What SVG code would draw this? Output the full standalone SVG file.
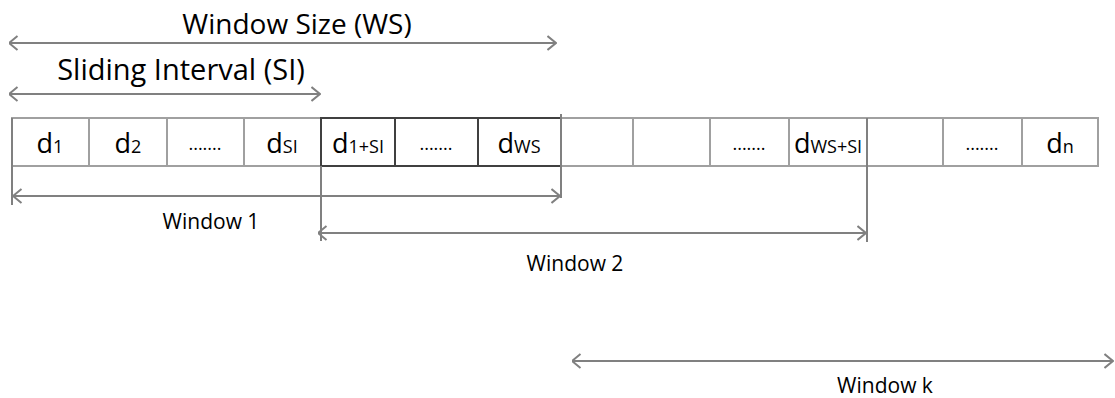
<svg xmlns="http://www.w3.org/2000/svg" width="1115" height="398" viewBox="0 0 1115 398">
<defs>
<marker id="ah" viewBox="0 0 10 16" refX="9.5" refY="8" markerWidth="10" markerHeight="16" markerUnits="userSpaceOnUse" orient="auto-start-reverse">
<path d="M1,1 L9.5,8 L1,15" fill="none" stroke="#808080" stroke-width="2"/>
</marker>
<style>
.t{font-family:"Open Sans","Noto Sans",sans-serif;fill:#000}
.big{font-size:28px}
.lbl{font-size:21px}
.c{fill:#fff;stroke:#a0a0a0;stroke-width:2}
.cd{fill:none;stroke:#404040;stroke-width:2}
.ar{fill:none;stroke:#808080;stroke-width:2;marker-start:url(#ah);marker-end:url(#ah)}
.v{stroke:#808080;stroke-width:2}
.d{font-size:27px}
.s{font-size:18px}
.dots{font-size:18px}
</style>
</defs>
<rect width="1115" height="398" fill="#fff"/>
<g id="cells">
<g id="c1"><rect class="c" x="12" y="118" width="77" height="48"/><text class="t" x="50" y="153" text-anchor="middle"><tspan class="d">d</tspan><tspan class="s">1</tspan></text></g>
<g id="c2"><rect class="c" x="89" y="118" width="78" height="48"/><text class="t" x="128" y="153" text-anchor="middle"><tspan class="d">d</tspan><tspan class="s">2</tspan></text></g>
<g id="c3"><rect class="c" x="167" y="118" width="77" height="48"/><text class="t dots" x="205" y="150" text-anchor="middle">.......</text></g>
<g id="c4"><rect class="c" x="244" y="118" width="77" height="48"/><text class="t" x="282" y="153" text-anchor="middle"><tspan class="d">d</tspan><tspan class="s">SI</tspan></text></g>
<g id="c5"><rect class="c" x="561" y="118" width="72" height="48"/></g>
<g id="c6"><rect class="c" x="633" y="118" width="77" height="48"/></g>
<g id="c7"><rect class="c" x="710" y="118" width="79" height="48"/><text class="t dots" x="749" y="150" text-anchor="middle">.......</text></g>
<g id="c8"><rect class="c" x="789" y="118" width="78" height="48"/><text class="t" x="828" y="153" text-anchor="middle"><tspan class="d">d</tspan><tspan class="s">WS+SI</tspan></text></g>
<g id="c9"><rect class="c" x="867" y="118" width="76" height="48"/></g>
<g id="c10"><rect class="c" x="943" y="118" width="79" height="48"/><text class="t dots" x="982" y="150" text-anchor="middle">.......</text></g>
<g id="c11"><rect class="c" x="1022" y="118" width="76" height="48"/><text class="t" x="1060" y="153" text-anchor="middle"><tspan class="d">d</tspan><tspan class="s">n</tspan></text></g>
<g id="c12"><rect class="cd" x="321" y="118" width="74" height="48"/><text class="t" x="358" y="153" text-anchor="middle"><tspan class="d">d</tspan><tspan class="s">1+SI</tspan></text></g>
<g id="c13"><rect class="cd" x="395" y="118" width="83" height="48"/><text class="t dots" x="436" y="150" text-anchor="middle">.......</text></g>
<g id="c14"><rect class="cd" x="478" y="118" width="83" height="48"/><text class="t" x="519" y="153" text-anchor="middle"><tspan class="d">d</tspan><tspan class="s">WS</tspan></text></g>
</g>
<g id="connectors">
<line class="v" x1="12" y1="118" x2="12" y2="205"/>
<line class="v" x1="321" y1="166" x2="321" y2="241"/>
<line class="v" x1="561" y1="114" x2="561" y2="198"/>
<line class="v" x1="867" y1="118" x2="867" y2="242"/>
<line class="ar" x1="9" y1="43" x2="556" y2="43"/>
<line class="ar" x1="9" y1="94" x2="320" y2="94"/>
<line class="ar" x1="13" y1="196" x2="560" y2="196"/>
<line class="ar" x1="318" y1="233" x2="866" y2="233"/>
<line class="ar" x1="572" y1="361" x2="1113" y2="361"/>
</g>
<g id="labels">
<text class="t big" x="297" y="34" text-anchor="middle">Window Size (WS)</text>
<text class="t" x="181" y="80" text-anchor="middle" style="font-size:29px">Sliding Interval (SI)</text>
<text class="t lbl" x="211" y="229" text-anchor="middle">Window 1</text>
<text class="t lbl" x="575" y="271" text-anchor="middle">Window 2</text>
<text class="t lbl" x="885" y="393" text-anchor="middle">Window k</text>
</g>
</svg>
